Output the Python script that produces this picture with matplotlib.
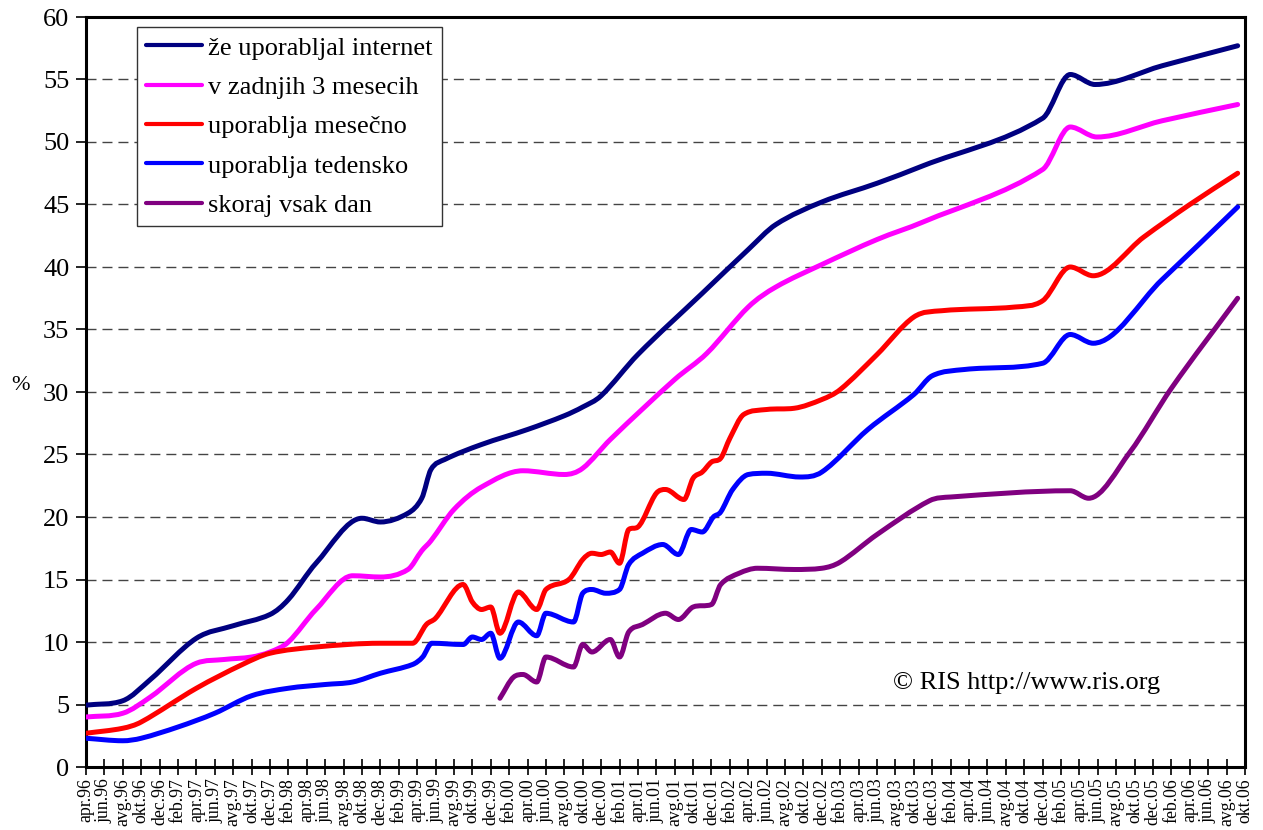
import matplotlib
matplotlib.use('Agg')
import matplotlib.pyplot as plt
from matplotlib.path import Path
from matplotlib.patches import PathPatch
from matplotlib.lines import Line2D
import numpy as np

plt.rcParams['font.family'] = ['Liberation Serif', 'DejaVu Serif']

# ---- x tick labels (every second month, apr.96 .. okt.06) ----
month_names = ['jan', 'feb', 'mar', 'apr', 'maj', 'jun', 'jul', 'avg', 'sep', 'okt', 'nov', 'dec']
tick_months = list(range(0, 127, 2))  # months since apr.96
tick_labels = [f"{month_names[(3 + m) % 12]}.{(96 + (3 + m) // 12) % 100:02d}" for m in tick_months]

# ---- series (x = months since apr.96, y = %) ----
navy_x = [0, 4, 7, 12, 16, 20, 22, 25, 30, 32, 35, 36.5, 37.5, 39, 43, 48, 52, 54, 56, 60, 67, 72, 75, 80, 86, 91, 104, 107, 109.7, 117, 125.2]
navy_y = [4.95, 5.3, 7.0, 10.3, 11.3, 12.2, 13.4, 16.3, 19.9, 19.6, 20.3, 21.5, 23.8, 24.6, 25.8, 27.0, 28.1, 28.8, 29.7, 33.0, 37.9, 41.4, 43.4, 45.2, 46.7, 48.1, 51.9, 55.4, 54.6, 56.1, 57.7]

pink_x = [0, 4, 7, 12, 15, 18, 20, 22, 25, 29, 32, 35, 36.5, 37.5, 40, 43, 47.5, 52, 54, 57, 64, 67.5, 72, 75, 80, 86, 91, 104, 107, 109.9, 117, 125.2]
pink_y = [4.0, 4.3, 5.6, 8.3, 8.6, 8.8, 9.2, 10.0, 12.6, 15.3, 15.2, 15.8, 17.3, 18.1, 20.6, 22.4, 23.7, 23.4, 23.9, 26.2, 31.0, 33.1, 36.8, 38.4, 40.2, 42.2, 43.6, 47.8, 51.2, 50.4, 51.7, 53.0]

red_x = [0, 4, 6, 12, 17, 20, 25, 32, 35.5, 37, 38, 41, 42, 43, 44, 45, 47, 49, 50, 52.5, 54, 55, 56, 57, 58, 59, 60, 62, 63, 65, 66, 67, 68, 69, 70, 71.5, 74, 77, 80, 82, 86, 90, 93, 101, 104, 107, 109.5, 115, 120, 125.2]
red_y = [2.7, 3.1, 3.6, 6.3, 8.2, 9.1, 9.6, 9.9, 9.9, 11.4, 11.9, 14.6, 13.2, 12.6, 12.8, 10.7, 14.0, 12.6, 14.2, 15.0, 16.6, 17.1, 17.0, 17.2, 16.3, 19.0, 19.2, 21.9, 22.2, 21.4, 23.1, 23.6, 24.4, 24.7, 26.3, 28.2, 28.6, 28.7, 29.4, 30.2, 33.0, 36.0, 36.5, 36.8, 37.3, 40.0, 39.3, 42.4, 45.0, 47.5]

blue_x = [0, 4, 6, 10, 14, 18, 22, 26, 29, 32, 35.5, 36.6, 37.6, 41, 42, 43, 44, 45, 47, 49, 50, 53, 54, 55, 56.5, 58, 59, 60.5, 62.7, 64.4, 65.8, 67, 68.2, 69, 70.3, 72, 74, 77.6, 80, 85, 90, 92, 95.5, 104, 107, 109.5, 117, 125.2]
blue_y = [2.3, 2.1, 2.3, 3.2, 4.3, 5.7, 6.3, 6.6, 6.8, 7.5, 8.2, 8.8, 9.9, 9.8, 10.4, 10.2, 10.7, 8.7, 11.6, 10.5, 12.3, 11.6, 13.9, 14.2, 13.9, 14.2, 16.2, 17.1, 17.8, 17.0, 19.0, 18.8, 20.0, 20.4, 22.2, 23.4, 23.5, 23.2, 23.6, 27.0, 29.8, 31.3, 31.8, 32.3, 34.6, 33.9, 39.0, 44.8]

purple_x = [45, 46.5, 47.5, 49, 50, 53, 54, 55, 57, 58, 59, 60.5, 63, 64.4, 66, 68, 69, 71, 73, 77, 80, 82, 86, 91.7, 94, 107, 109, 113.5, 118, 125.2]
purple_y = [5.5, 7.2, 7.4, 6.8, 8.8, 8.0, 9.8, 9.2, 10.2, 8.8, 10.8, 11.4, 12.3, 11.8, 12.8, 13.0, 14.6, 15.5, 15.9, 15.8, 15.9, 16.4, 18.6, 21.3, 21.6, 22.1, 21.5, 25.2, 30.3, 37.5]

series_labels = ['že uporabljal internet', 'v zadnjih 3 mesecih', 'uporablja mesečno',
                 'uporablja tedensko', 'skoraj vsak dan']
series_colors = ['#000080', '#FF00FF', '#FF0000', '#0000FF', '#800080']
series_data = [(navy_x, navy_y), (pink_x, pink_y), (red_x, red_y), (blue_x, blue_y), (purple_x, purple_y)]


def smooth_path(x, y):
    """Smoothed line: cubic Bezier segments (monotone Hermite tangents) through the data points."""
    x = np.asarray(x, float)
    y = np.asarray(y, float)
    n = len(x)
    h = np.diff(x)
    d = np.diff(y) / h
    m = np.zeros(n)
    m[0], m[-1] = d[0], d[-1]
    for i in range(1, n - 1):
        if d[i - 1] * d[i] <= 0:
            m[i] = 0.0
        else:
            c = (y[i + 1] - y[i - 1]) / (x[i + 1] - x[i - 1])
            lim = 3 * min(abs(d[i - 1]), abs(d[i]))
            m[i] = np.sign(c) * min(abs(c), lim)
    verts = [(x[0], y[0])]
    codes = [Path.MOVETO]
    for i in range(n - 1):
        verts += [(x[i] + h[i] / 3, y[i] + m[i] * h[i] / 3),
                  (x[i + 1] - h[i] / 3, y[i + 1] - m[i + 1] * h[i] / 3),
                  (x[i + 1], y[i + 1])]
        codes += [Path.CURVE4] * 3
    return Path(verts, codes)


W, H = 1263, 830
fig = plt.figure(figsize=(W / 100, H / 100), dpi=100)
ax = fig.add_axes([86 / W, 1 - 767 / H, (1245 - 86) / W, (767 - 17) / H])

LW = 3.6
for (x, y), c in zip(series_data, series_colors):
    patch = PathPatch(smooth_path(x, y), facecolor='none', edgecolor=c, lw=LW,
                      capstyle='round', joinstyle='round', zorder=3)
    ax.add_patch(patch)

ax.set_xlim(0, 126)
ax.set_ylim(0, 60)
ax.set_xticks(tick_months)
ax.set_xticklabels(tick_labels, rotation=90, fontsize=12.8)
ax.set_yticks(range(0, 61, 5))
ax.tick_params(axis='y', labelsize=19, direction='out', length=7, width=1.2, pad=5)
ax.tick_params(axis='x', direction='inout', length=12, width=1.2, pad=2)

for s in ax.spines.values():
    s.set_linewidth(2.2)
    s.set_color('black')

ax.set_axisbelow(True)
ax.yaxis.grid(True, color='#444444', lw=1.0, linestyle=(0, (7.2, 4.3)))

handles = [Line2D([], [], color=c, lw=3.0, solid_capstyle='round') for c in series_colors]
leg = ax.legend(handles, series_labels, loc='upper left',
                bbox_to_anchor=((137 - 86) / 1159, (767 - 27) / 750),
                fontsize=19, frameon=True, fancybox=False, framealpha=1,
                edgecolor='#333333', borderpad=0.35, labelspacing=0.6,
                handlelength=2.1, handletextpad=0.25, borderaxespad=0)
leg.get_frame().set_linewidth(1.0)

ax.text(87.7, 6.24, '© RIS http://www.ris.org', fontsize=19, ha='left', va='baseline')
fig.text(11 / W, 1 - 385 / H, '%', fontsize=16, ha='left', va='center')

fig.savefig('out.png', dpi=100)
